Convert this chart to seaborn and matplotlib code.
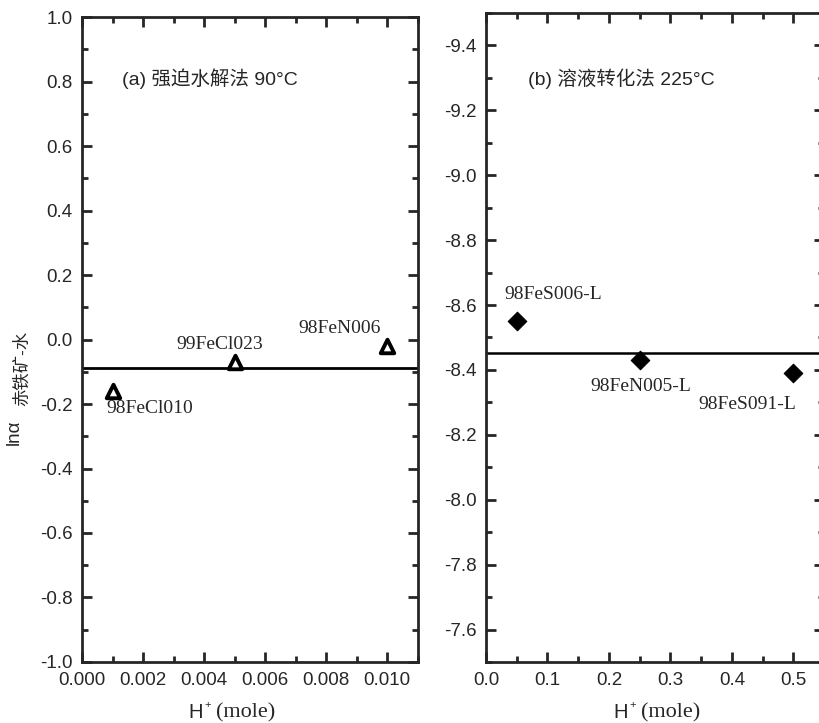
import numpy as np
import pandas as pd
import seaborn as sns
import matplotlib.pyplot as plt
from matplotlib.ticker import MultipleLocator

### 데이터
# (a) 强迫水解法 90°C
a_names = ['98FeCl010', '99FeCl023', '98FeN006']
a_h = [0.001, 0.005, 0.010]
a_ln = [-0.16, -0.07, -0.02]
a_mean = -0.088

# (b) 溶液转化法 225°C
b_names = ['98FeS006-L', '98FeN005-L', '98FeS091-L']
b_h = [0.05, 0.25, 0.50]
b_ln = [-8.55, -8.43, -8.39]
b_mean = -8.452

sns.set_style('ticks')
plt.rcParams['font.family'] = ['Liberation Sans', 'Noto Sans CJK SC', 'DejaVu Sans']
plt.rcParams['xtick.direction'] = 'in'
plt.rcParams['ytick.direction'] = 'in'

cjk = ['Liberation Sans', 'Noto Sans CJK SC', 'DejaVu Sans']

fig = plt.figure(figsize=(8.19, 7.23), dpi=100)
ax1 = fig.add_axes([0.1001, 0.0844, 0.410, 0.892])
ax2 = fig.add_axes([0.5934, 0.0844, 0.4127, 0.8977])

df_a = pd.DataFrame({'h': a_h, 'ln': a_ln, 'name': a_names})
df_b = pd.DataFrame({'h': b_h, 'ln': b_ln, 'name': b_names})

sns.scatterplot(data=df_a, x='h', y='ln', ax=ax1, marker='^', s=95,
                facecolor='white', edgecolor='black', linewidth=2.8, zorder=3)
ax1.axhline(a_mean, color='black', lw=2)

sns.scatterplot(data=df_b, x='h', y='ln', ax=ax2, marker='D', s=90,
                color='black', edgecolor='black', zorder=3)
ax2.axhline(b_mean, color='black', lw=1.8)

# 점 라벨 (serif)
serif = dict(family='Liberation Serif', fontsize=14)
a_off = [(-0.0002, -0.028, 'left', 'top'), (-0.0019, 0.028, 'left', 'bottom'),
         (-0.0029, 0.028, 'left', 'bottom')]
for x, y, n, (dx, dy, ha, va) in zip(a_h, a_ln, a_names, a_off):
    ax1.text(x + dx, y + dy, n, ha=ha, va=va, **serif)

b_off = [(-0.02, -0.055, 'left', 'bottom'), (-0.08, 0.055, 'left', 'top'),
         (-0.155, 0.07, 'left', 'top')]
for x, y, n, (dx, dy, ha, va) in zip(b_h, b_ln, b_names, b_off):
    ax2.text(x + dx, y + dy, n, ha=ha, va=va, **serif)

ax1.text(0.12, 0.905, '(a) 强迫水解法 90°C', transform=ax1.transAxes,
         fontsize=14, va='center', family=cjk)
ax2.text(0.125, 0.898, '(b) 溶液转化法 225°C', transform=ax2.transAxes,
         fontsize=14, va='center', family=cjk)

# 축 설정
ax1.set_xlim(0, 0.011)
ax1.set_ylim(-1.0, 1.0)
ax1.xaxis.set_major_locator(MultipleLocator(0.002))
ax1.xaxis.set_minor_locator(MultipleLocator(0.001))
ax1.yaxis.set_major_locator(MultipleLocator(0.2))
ax1.yaxis.set_minor_locator(MultipleLocator(0.1))
ax1.xaxis.set_major_formatter(plt.FormatStrFormatter('%.3f'))
ax1.yaxis.set_major_formatter(plt.FormatStrFormatter('%.1f'))

ax2.set_xlim(0, 0.55)
ax2.set_ylim(-7.5, -9.5)
ax2.xaxis.set_major_locator(MultipleLocator(0.1))
ax2.xaxis.set_minor_locator(MultipleLocator(0.05))
ax2.yaxis.set_major_locator(MultipleLocator(0.2))
ax2.yaxis.set_minor_locator(MultipleLocator(0.1))
ax2.xaxis.set_major_formatter(plt.FormatStrFormatter('%.1f'))
ax2.yaxis.set_major_formatter(plt.FormatStrFormatter('%.1f'))

# x축 제목: H(+) 는 sans, (mole) 은 serif
xlab_pos = [(ax1, 0.360, 0.4), (ax2, 0.420, 0.458)]
for ax, xh, xm in xlab_pos:
    for s in ax.spines.values():
        s.set_linewidth(2)
        s.set_visible(True)
    ax.tick_params(which='both', top=True, right=True, width=2, labelsize=13.5, pad=7)
    ax.tick_params(which='major', length=7)
    ax.tick_params(which='minor', length=4)
    ax.set_xlabel('')
    ax.set_ylabel('')
    ax.text(xh, -0.078, 'H', transform=ax.transAxes, ha='right', va='center',
            fontsize=14.5, family='Liberation Sans')
    ax.text(xh + 0.004, -0.066, '+', transform=ax.transAxes, ha='left', va='center',
            fontsize=8, family='Liberation Sans')
    ax.text(xm, -0.079, '(mole)', transform=ax.transAxes, ha='left', va='center',
            fontsize=16, family='Liberation Serif')

# y축 제목: lnα 赤铁矿-水
fig.text(0.017, 0.402, 'lnα', rotation=90, ha='center', va='center',
         fontsize=13.5, family=cjk)
fig.text(0.027, 0.49, '赤铁矿-水', rotation=90, ha='center', va='center',
         fontsize=12.5, family=cjk)

plt.savefig('out.png', dpi=100)
plt.close()
